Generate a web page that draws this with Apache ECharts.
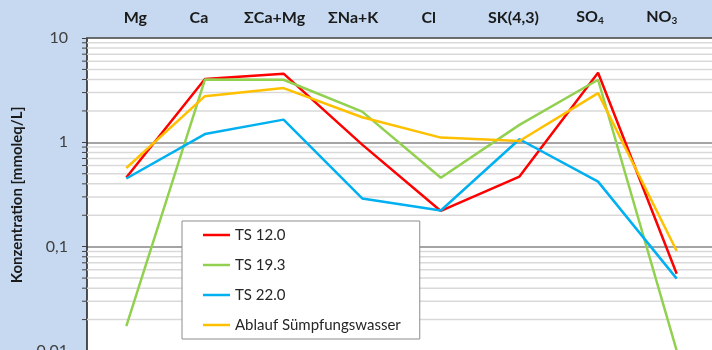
<!DOCTYPE html>
<html>
<head>
<meta charset="utf-8">
<script src="https://cdn.jsdelivr.net/npm/echarts@6/dist/echarts.min.js"></script>
<style>
  html, body { margin: 0; padding: 0; background: #c6d9f0; }
  #chart { width: 712px; height: 350px; }
</style>
</head>
<body>
<div id="chart"></div>
<script>
// Parameters (top axis) and measured concentrations in mmoleq/L
const categories = ['Mg', 'Ca', 'ΣCa+Mg', 'ΣNa+K', 'Cl', 'SK(4,3)', 'SO4', 'NO3'];
const ts120 = [0.46, 4.05, 4.55, 0.95, 0.22, 0.47, 4.65, 0.055];
const ts193 = [0.0173, 4.0, 3.98, 1.97, 0.458, 1.47, 3.98, 0.0101];
const ts220 = [0.45, 1.2, 1.65, 0.29, 0.222, 1.07, 0.42, 0.0494];
const ablauf = [0.567, 2.77, 3.31, 1.74, 1.11, 1.03, 2.96, 0.091];
const seriesNames = ['TS 12.0', 'TS 19.3', 'TS 22.0', 'Ablauf Sümpfungswasser'];
const yTicks = [0.01, 0.1, 1, 10];

// Horizontal nudges (px) for the parameter headings
const labelShift = [9, -6, -9, -9, -12, -6, -8, -15];

// Intermediate log gridline values 2..9 within each decade
const minorValues = [];
for (let d = 0.01; d < 10; d *= 10) {
  for (let k = 2; k <= 9; k++) minorValues.push([0, +(k * d).toPrecision(3)]);
}

const FONT = 'Lato, "Open Sans", sans-serif';

// Rich text for headings: subscripts for SO4 / NO3
const rich = {};
categories.forEach((c, i) => {
  const s = labelShift[i];
  const base = { fontFamily: FONT, fontSize: 16, fontWeight: 'bold', color: '#1a1a1a' };
  rich['a' + i] = Object.assign({}, base, { padding: [0, 0, 0, s > 0 ? 2 * s : 0] });
  rich['z' + i] = Object.assign({}, base, { padding: [0, s < 0 ? -2 * s : 0, 0, 0] });
  rich['m' + i] = Object.assign({}, base);
  rich['s' + i] = Object.assign({}, base, { fontSize: 10, padding: [8, s < 0 ? -2 * s : 0, 0, 0] });
});

function headingLabel(value, idx) {
  const i = categories.indexOf(value);
  const sub = value.match(/^(SO|NO)(\d)$/);
  if (sub) return '{a' + i + '|' + sub[1] + '}{s' + i + '|' + sub[2] + '}';
  return '{a' + i + '|}{m' + i + '|' + value + '}{z' + i + '|}';
}

const colors = ['#ff0000', '#92d050', '#00b0f0', '#ffc000'];
const lineData = [ts120, ts193, ts220, ablauf];

const chart = echarts.init(document.getElementById('chart'));
chart.setOption({
  backgroundColor: '#c6d9f0',
  animation: false,
  grid: {
    left: 87, top: 38, right: -4, bottom: -1,
    outerBoundsMode: 'none',
    show: true, backgroundColor: '#ffffff', borderWidth: 0
  },
  legend: {
    data: seriesNames,
    orient: 'vertical',
    left: 182, top: 221,
    backgroundColor: '#ffffff',
    borderColor: '#8c8c8c', borderWidth: 1,
    padding: [6, 19, 6, 21],
    icon: 'rect',
    itemWidth: 27, itemHeight: 2.5, itemGap: 14,
    textStyle: { fontFamily: FONT, fontSize: 15, color: '#262626', lineHeight: 16 }
  },
  graphic: [{
    type: 'text',
    x: 17, y: 195,
    rotation: Math.PI / 2,
    style: {
      text: 'Konzentration [mmoleq/L]',
      font: 'bold 15px ' + FONT,
      fill: '#1a1a1a',
      align: 'center', verticalAlign: 'middle'
    }
  }],
  xAxis: {
    type: 'category',
    position: 'top',
    data: categories,
    boundaryGap: true,
    axisLine: { show: true, lineStyle: { color: '#595959', width: 1.5 } },
    axisTick: { show: false },
    axisLabel: { margin: 12, interval: 0, formatter: headingLabel, rich: rich },
    splitLine: { show: false }
  },
  yAxis: {
    type: 'log',
    logBase: 10,
    min: yTicks[0],
    max: yTicks[yTicks.length - 1],
    axisLine: { show: true, lineStyle: { color: '#1a1a1a', width: 1.5 } },
    axisTick: { show: true, length: 5, lineStyle: { color: '#404040', width: 1 } },
    axisLabel: {
      margin: 19,
      fontFamily: FONT, fontSize: 16, color: '#404040',
      formatter: v => String(v).replace('.', ',')
    },
    splitLine: { show: true, lineStyle: { color: '#868686', width: 1.5 } }
  },
  series: [
    {
      type: 'custom',
      name: 'grid-minor',
      data: minorValues,
      encode: { x: 0, y: 1 },
      clip: false,
      silent: true,
      z: 1,
      renderItem: function (params, api) {
        const cs = params.coordSys;
        const y = api.coord([0, api.value(1)])[1];
        return {
          type: 'group',
          children: [
            { type: 'line', shape: { x1: cs.x, y1: y, x2: cs.x + cs.width, y2: y },
              style: { stroke: '#d9d9d9', lineWidth: 1.5 } },
            { type: 'line', shape: { x1: cs.x - 5, y1: y, x2: cs.x, y2: y },
              style: { stroke: '#404040', lineWidth: 1 } }
          ]
        };
      }
    }
  ].concat(seriesNames.map((name, i) => ({
    type: 'line',
    name: name,
    data: lineData[i],
    showSymbol: false,
    symbol: 'none',
    z: 3,
    lineStyle: { color: colors[i], width: 2.5 },
    itemStyle: { color: colors[i] }
  })))
});
</script>
</body>
</html>
